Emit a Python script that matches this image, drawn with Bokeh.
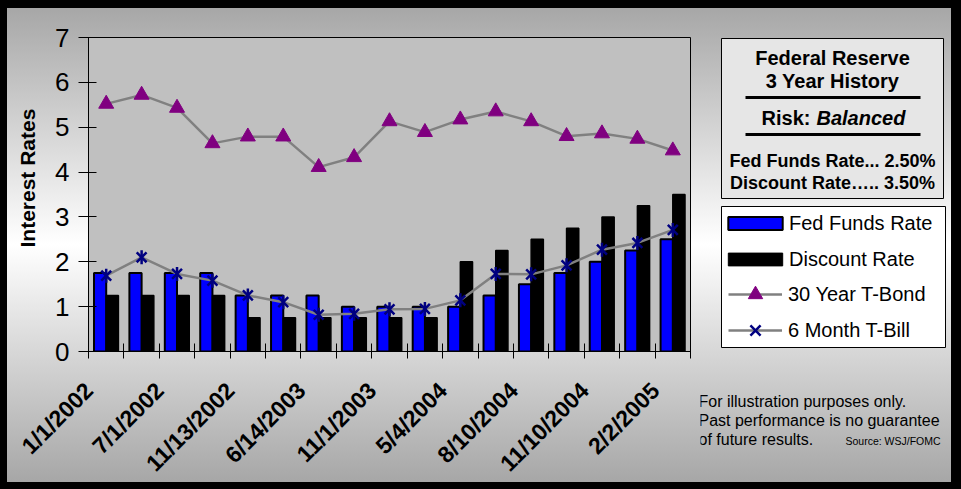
import math
from bokeh.plotting import figure
from bokeh.layouts import row, column
from bokeh.models import (Range1d, FixedTicker, Legend, LegendItem, Title, ColumnDataSource)
from bokeh.transform import dodge
from bokeh.core.properties import value
from bokeh.embed import file_html
from bokeh.resources import INLINE

# ---------------- data ----------------
tick_labels = ["1/1/2002", "7/1/2002", "11/13/2002", "6/14/2003", "11/1/2003",
               "5/4/2004", "8/10/2004", "11/10/2004", "2/2/2005"]
fed_funds = [1.75, 1.75, 1.75, 1.75, 1.25, 1.25, 1.25, 1.00, 1.00, 1.00, 1.00,
             1.25, 1.50, 1.75, 2.00, 2.25, 2.50]
discount = [1.25, 1.25, 1.25, 1.25, 0.75, 0.75, 0.75, 0.75, 0.75, 0.75, 2.00,
            2.25, 2.50, 2.75, 3.00, 3.25, 3.50]
tbond_30y = [5.52, 5.72, 5.43, 4.64, 4.79, 4.79, 4.11, 4.33, 5.13, 4.89, 5.17,
             5.35, 5.13, 4.80, 4.86, 4.74, 4.48]
tbill_6m = [1.69, 2.10, 1.73, 1.58, 1.25, 1.10, 0.82, 0.84, 0.94, 0.95, 1.14,
            1.73, 1.72, 1.92, 2.27, 2.42, 2.71]
y_ticks = [0, 1, 2, 3, 4, 5, 6, 7]
series_names = ["Fed Funds Rate", "Discount Rate", "30 Year T-Bond", "6 Month T-Bill"]

n = len(fed_funds)
idx = list(range(n))
src = ColumnDataSource(dict(x=idx, ff=fed_funds, dr=discount, tb=tbond_30y, bill=tbill_6m))

FONT = "Liberation Sans"
W, H = 961, 489
LW = 700                       # width of chart part
FL, FR, FT, FB = 86, 690, 37, 351   # plot frame in canvas pixels

BLUE, NAVY, PURPLE, GRAY = "#0000ff", "#000080", "#800080", "#808080"

# ---------------- main chart ----------------
p = figure(width=LW, height=H, output_backend="svg", toolbar_location=None,
           x_range=Range1d(-0.5, n - 0.5), y_range=Range1d(0, 7),
           min_border_left=FL, min_border_right=LW - FR,
           min_border_top=FT, min_border_bottom=H - FB,
           background_fill_color="#c0c0c0", border_fill_color=None,
           outline_line_color="black", outline_line_width=1)
p.xgrid.visible = False
p.ygrid.visible = False

LABEL_SHIFT = -0.49   # label anchor relative to the category centre
label_ticks = [i + LABEL_SHIFT for i in idx[::2]]
xa = p.xaxis[0]
xa.ticker = FixedTicker(ticks=label_ticks, minor_ticks=[i - 0.5 for i in range(n + 1)])
xa.major_label_overrides = {t: lab for t, lab in zip(label_ticks, tick_labels)}
xa.major_tick_line_color = None
xa.major_tick_in = 0
xa.major_tick_out = 7
xa.minor_tick_in = 8
xa.minor_tick_out = 7
xa.minor_tick_line_color = "black"
xa.axis_line_color = "black"
xa.major_label_orientation = math.pi / 4
xa.major_label_standoff = 28
xa.major_label_text_font = FONT
xa.major_label_text_font_style = "bold"
xa.major_label_text_font_size = "23px"
xa.major_label_text_color = "black"

ya = p.yaxis[0]
ya.ticker = FixedTicker(ticks=y_ticks)
ya.major_tick_in = 8
ya.major_tick_out = 10
ya.minor_tick_line_color = None
ya.axis_line_color = "black"
ya.major_tick_line_color = "black"
ya.major_label_standoff = 9
ya.major_label_text_font = FONT
ya.major_label_text_font_size = "26px"
ya.major_label_text_color = "black"

p.add_layout(Title(text="Interest Rates", align="left", offset=FB - 247,
                   text_font=FONT, text_font_style="bold", text_font_size="21px",
                   text_color="black", standoff=27), "left")

BW = 0.345
p.vbar(x=dodge("x", -BW / 2), top="ff", width=BW, source=src,
       fill_color=BLUE, line_color="black", line_width=2)
p.vbar(x=dodge("x", BW / 2), top="dr", width=BW, source=src,
       fill_color="black", line_color="black", line_width=1.5)
p.line("x", "tb", source=src, line_color=GRAY, line_width=2.5)
p.scatter("x", "tb", source=src, marker="triangle", size=15,
          fill_color=PURPLE, line_color=PURPLE, line_width=1)
p.line("x", "bill", source=src, line_color=GRAY, line_width=2.5)
p.scatter("x", "bill", source=src, marker="x", size=14, line_color=NAVY, line_width=2.5)
p.scatter("x", "bill", source=src, marker="dash", size=14, angle=math.pi / 2,
          line_color=NAVY, line_width=2.5)

# ---------------- right side panel (info box, legend, notes) ----------------
q = figure(width=W - LW, height=H, output_backend="svg", toolbar_location=None,
           x_range=Range1d(LW, W), y_range=Range1d(H, 0), min_border=0,
           x_axis_location=None, y_axis_location=None,
           background_fill_color=None, border_fill_color=None, outline_line_color=None)
q.grid.visible = False

# info box
q.quad(left=[721], right=[943], top=[38], bottom=[198], fill_color="#e6e6e6",
       line_color="black", line_width=1)
q.quad(left=[745, 745], right=[920, 920], top=[95.5, 132.5], bottom=[98.5, 135.5],
       fill_color="black", line_color=None)
# legend box
q.quad(left=[721], right=[945], top=[206], bottom=[347], fill_color="white",
       line_color="black", line_width=1)

def txt(x, y, text, size, style="normal", align="center"):
    q.text(x=[x], y=[y], text=[text], text_font=value(FONT), text_font_style=style,
           text_font_size=size, text_align=align, text_baseline="middle",
           text_color="black")

txt(832, 57, "Federal Reserve", "20px", "bold")
txt(832, 80, "3 Year History", "20px", "bold")
txt(810, 117, "Risk:", "20px", "bold", "right")
txt(816, 117, "Balanced", "20px", "bold italic", "left")
txt(832, 160, "Fed Funds Rate... 2.50%", "18px", "bold")
txt(832, 182, "Discount Rate….. 3.50%", "18px", "bold")

txt(698, 401, "For illustration purposes only.", "16px", align="left")
txt(698, 420, "Past performance is no guarantee", "16px", align="left")
txt(698, 439, "of future results.", "16px", align="left")
txt(845, 440, "Source: WSJ/FOMC", "10.5px", align="left")

# legend proxies (kept outside the visible range)
px = [-1000]
pr_ff = q.vbar(x=px, top=[0], width=1, fill_color=BLUE, line_color="black", line_width=2)
pr_dr = q.vbar(x=px, top=[0], width=1, fill_color="black", line_color="black")
pr_l1 = q.line(x=px, y=[0], line_color=GRAY, line_width=2.5)
pr_tb = q.scatter(x=px, y=[0], marker="triangle", size=15, fill_color=PURPLE, line_color=PURPLE)
pr_l2 = q.line(x=px, y=[0], line_color=GRAY, line_width=2.5)
pr_bl = q.scatter(x=px, y=[0], marker="x", size=14, line_color=NAVY, line_width=2.5)

legA = Legend(items=[LegendItem(label=series_names[0], renderers=[pr_ff]),
                     LegendItem(label=series_names[1], renderers=[pr_dr])],
              location=(721 - LW, H - 271), orientation="vertical",
              glyph_width=68, glyph_height=16, label_height=24, spacing=12,
              padding=0, margin=0, label_standoff=0,
              border_line_color=None, background_fill_alpha=0,
              label_text_font=FONT, label_text_font_size="20px", label_text_color="black")
legB = Legend(items=[LegendItem(label=series_names[2], renderers=[pr_l1, pr_tb]),
                     LegendItem(label=series_names[3], renderers=[pr_l2, pr_bl])],
              location=(728 - LW, H - 348), orientation="vertical",
              glyph_width=54, glyph_height=36, label_height=24, spacing=0,
              padding=0, margin=0, label_standoff=6,
              border_line_color=None, background_fill_alpha=0,
              label_text_font=FONT, label_text_font_size="20px", label_text_color="black")
q.add_layout(legA, "center")
q.add_layout(legB, "center")

layout = row(p, column(q), spacing=0)
layout.styles = {
    "background": "linear-gradient(to bottom, #a4a4a4 0%, #ffffff 50%, #a4a4a4 100%)",
    "box-shadow": "inset 7px 8px 0 0 #000, inset -10px -7px 0 0 #000",
}

open("out.html", "w").write(file_html(layout, INLINE))
